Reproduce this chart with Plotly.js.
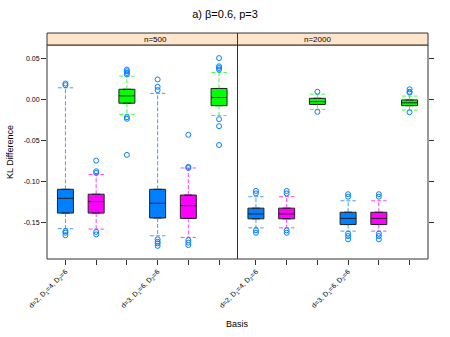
<!DOCTYPE html>
<html>
<head>
<meta charset="utf-8">
<script src="https://cdn.plot.ly/plotly-3.0.1.min.js"></script>
<style>
  body { margin: 0; background: #fff; }
  #chart { width: 450px; height: 337px; }
</style>
</head>
<body>
<div id="chart"></div>
<script>
// box positions and labels (shared by both panels)
var positions = [1, 2, 3, 4, 5, 6];
var tickLabels = ['d=2, D<sub>1</sub>=4, D<sub>2</sub>=6', '', '', 'd=3, D<sub>1</sub>=6, D<sub>2</sub>=6', '', ''];
var boxColors = ['#0080ff', '#ff00ff', '#00ff00', '#0080ff', '#ff00ff', '#00ff00'];
var yTicks = [0.05, 0.00, -0.05, -0.10, -0.15];
var yTickText = ['0.05', '0.00', '-0.05', '-0.10', '-0.15'];

// n=500 -----------------------------------------------------
var q1_500 = [-0.139, -0.139, -0.005, -0.145, -0.1455, -0.008];
var med_500 = [-0.121, -0.125, 0.004, -0.127, -0.130, 0.002];
var q3_500 = [-0.110, -0.116, 0.012, -0.110, -0.117, 0.013];
var lo_500 = [-0.158, -0.1585, -0.0187, -0.1667, -0.1687, -0.020];
var hi_500 = [0.0138, -0.092, 0.028, 0.007, -0.084, 0.0325];
var out_500 = [
    [0.019, 0.017, -0.161, -0.163, -0.166],
    [-0.075, -0.088, -0.090, -0.162, -0.165],
    [0.036, 0.034, 0.032, 0.030, -0.022, -0.024, -0.068],
    [0.024, 0.015, 0.011, -0.171, -0.174, -0.176, -0.179],
    [-0.0435, -0.0826, -0.084, -0.172, -0.175, -0.178],
    [0.050, 0.040, 0.038, 0.036, -0.0245, -0.033, -0.056]
];

// n=2000 ----------------------------------------------------
var q1_2000 = [-0.146, -0.146, -0.0065, -0.153, -0.153, -0.008];
var med_2000 = [-0.140, -0.140, -0.003, -0.1455, -0.1455, -0.0045];
var q3_2000 = [-0.133, -0.133, 0.001, -0.138, -0.138, -0.001];
var lo_2000 = [-0.157, -0.157, -0.0126, -0.161, -0.161, -0.0134];
var hi_2000 = [-0.119, -0.119, 0.006, -0.124, -0.124, 0.0037];
var out_2000 = [
    [-0.112, -0.115, -0.160, -0.163],
    [-0.112, -0.115, -0.160, -0.163],
    [0.009, -0.0155],
    [-0.116, -0.119, -0.164, -0.167, -0.171],
    [-0.116, -0.119, -0.164, -0.167, -0.171],
    [0.012, 0.009, 0.008, -0.016]
];

var capHalf = 0.25;
var boxWidth = 0.52;

// build the traces of one panel
function panelTraces(q1, med, q3, lo, hi, outs, xa, ya) {
    var traces = [];
    // dashed whiskers + caps, one trace per colour
    var colors = ['#0080ff', '#ff00ff', '#00ff00'];
    colors.forEach(function(col) {
        var wx = [], wy = [];
        positions.forEach(function(p, i) {
            if (boxColors[i] !== col) return;
            wx.push(p, p, null, p, p, null);
            wy.push(q3[i], hi[i], null, q1[i], lo[i], null);
            wx.push(p - capHalf, p + capHalf, null, p - capHalf, p + capHalf, null);
            wy.push(hi[i], hi[i], null, lo[i], lo[i], null);
        });
        traces.push({
            type: 'scatter', mode: 'lines', x: wx, y: wy,
            xaxis: xa, yaxis: ya, hoverinfo: 'skip',
            line: { color: col, width: 1, dash: '4px,2px' },
            opacity: 0.75, showlegend: false
        });
    });
    // boxes, whiskers hidden (fences = quartiles)
    colors.forEach(function(col) {
        var bx = [], b1 = [], bm = [], b3 = [];
        positions.forEach(function(p, i) {
            if (boxColors[i] !== col) return;
            bx.push(p); b1.push(q1[i]); bm.push(med[i]); b3.push(q3[i]);
        });
        traces.push({
            type: 'box', x: bx, q1: b1, median: bm, q3: b3,
            lowerfence: b1, upperfence: b3,
            width: boxWidth, fillcolor: col,
            line: { color: '#222', width: 1 },
            xaxis: xa, yaxis: ya, showlegend: false, hoverinfo: 'skip'
        });
    });
    // outlier circles
    var ox = [], oy = [];
    positions.forEach(function(p, i) {
        outs[i].forEach(function(v) { ox.push(p); oy.push(v); });
    });
    traces.push({
        type: 'scatter', mode: 'markers', x: ox, y: oy,
        xaxis: xa, yaxis: ya, hoverinfo: 'skip',
        marker: { symbol: 'circle-open', size: 5, color: '#0080ff', line: { width: 1 } },
        showlegend: false
    });
    return traces;
}

var data = panelTraces(q1_500, med_500, q3_500, lo_500, hi_500, out_500, 'x', 'y')
    .concat(panelTraces(q1_2000, med_2000, q3_2000, lo_2000, hi_2000, out_2000, 'x2', 'y2'));

var tickFont = { family: 'Liberation Sans, Arial, sans-serif', size: 7, color: '#000' };

var xaxisBase = {
    range: [0.4, 6.6], tickvals: positions, ticktext: tickLabels,
    tickangle: -45, ticks: 'outside', ticklen: 5, tickcolor: '#333',
    showgrid: false, zeroline: false, showline: false, tickfont: tickFont, fixedrange: true
};
var yaxisBase = {
    range: [-0.195, 0.066], tickvals: yTicks, ticktext: yTickText,
    ticks: 'outside', ticklen: 5, tickcolor: '#333',
    showgrid: false, zeroline: false, showline: false, tickfont: tickFont, fixedrange: true
};

var layout = {
    width: 450, height: 337,
    margin: { l: 47, r: 22, t: 45, b: 78 },
    paper_bgcolor: '#fff', plot_bgcolor: '#fff',
    font: { family: 'Liberation Sans, Arial, sans-serif', color: '#000' },
    boxmode: 'overlay',
    title: { text: 'a) β=0.6, p=3', x: 0.5, xanchor: 'center', y: 0.97, font: { size: 11 } },
    xaxis: Object.assign({}, xaxisBase, { domain: [0, 0.5], anchor: 'y' }),
    xaxis2: Object.assign({}, xaxisBase, { domain: [0.5, 1], anchor: 'y2' }),
    yaxis: Object.assign({}, yaxisBase, {
        anchor: 'x', title: { text: 'KL Difference', font: { size: 9 }, standoff: 8 }
    }),
    yaxis2: Object.assign({}, yaxisBase, { anchor: 'x2', side: 'right', showticklabels: false }),
    shapes: [
        // panel frames
        { type: 'rect', xref: 'x domain', yref: 'y domain', x0: 0, x1: 1, y0: 0, y1: 1, line: { color: '#333', width: 1 } },
        { type: 'rect', xref: 'x2 domain', yref: 'y2 domain', x0: 0, x1: 1, y0: 0, y1: 1, line: { color: '#333', width: 1 } },
        // strips
        { type: 'rect', xref: 'x domain', yref: 'paper', x0: 0, x1: 1, y0: 1, y1: 1.056, fillcolor: '#ffe5cc', line: { color: '#333', width: 1 } },
        { type: 'rect', xref: 'x2 domain', yref: 'paper', x0: 0, x1: 1, y0: 1, y1: 1.056, fillcolor: '#ffe5cc', line: { color: '#333', width: 1 } }
    ],
    annotations: [
        { text: 'n=500', xref: 'paper', yref: 'paper', x: 0.25, y: 1.028, showarrow: false, font: { size: 8 }, yanchor: 'middle' },
        { text: 'n=2000', xref: 'paper', yref: 'paper', x: 0.75, y: 1.028, showarrow: false, font: { size: 8 }, yanchor: 'middle' },
        { text: 'Basis', xref: 'paper', yref: 'paper', x: 0.5, y: -0.27, showarrow: false, font: { size: 9 }, yanchor: 'top' }
    ]
};

Plotly.newPlot('chart', data, layout, { displayModeBar: false, staticPlot: true });
</script>
</body>
</html>
